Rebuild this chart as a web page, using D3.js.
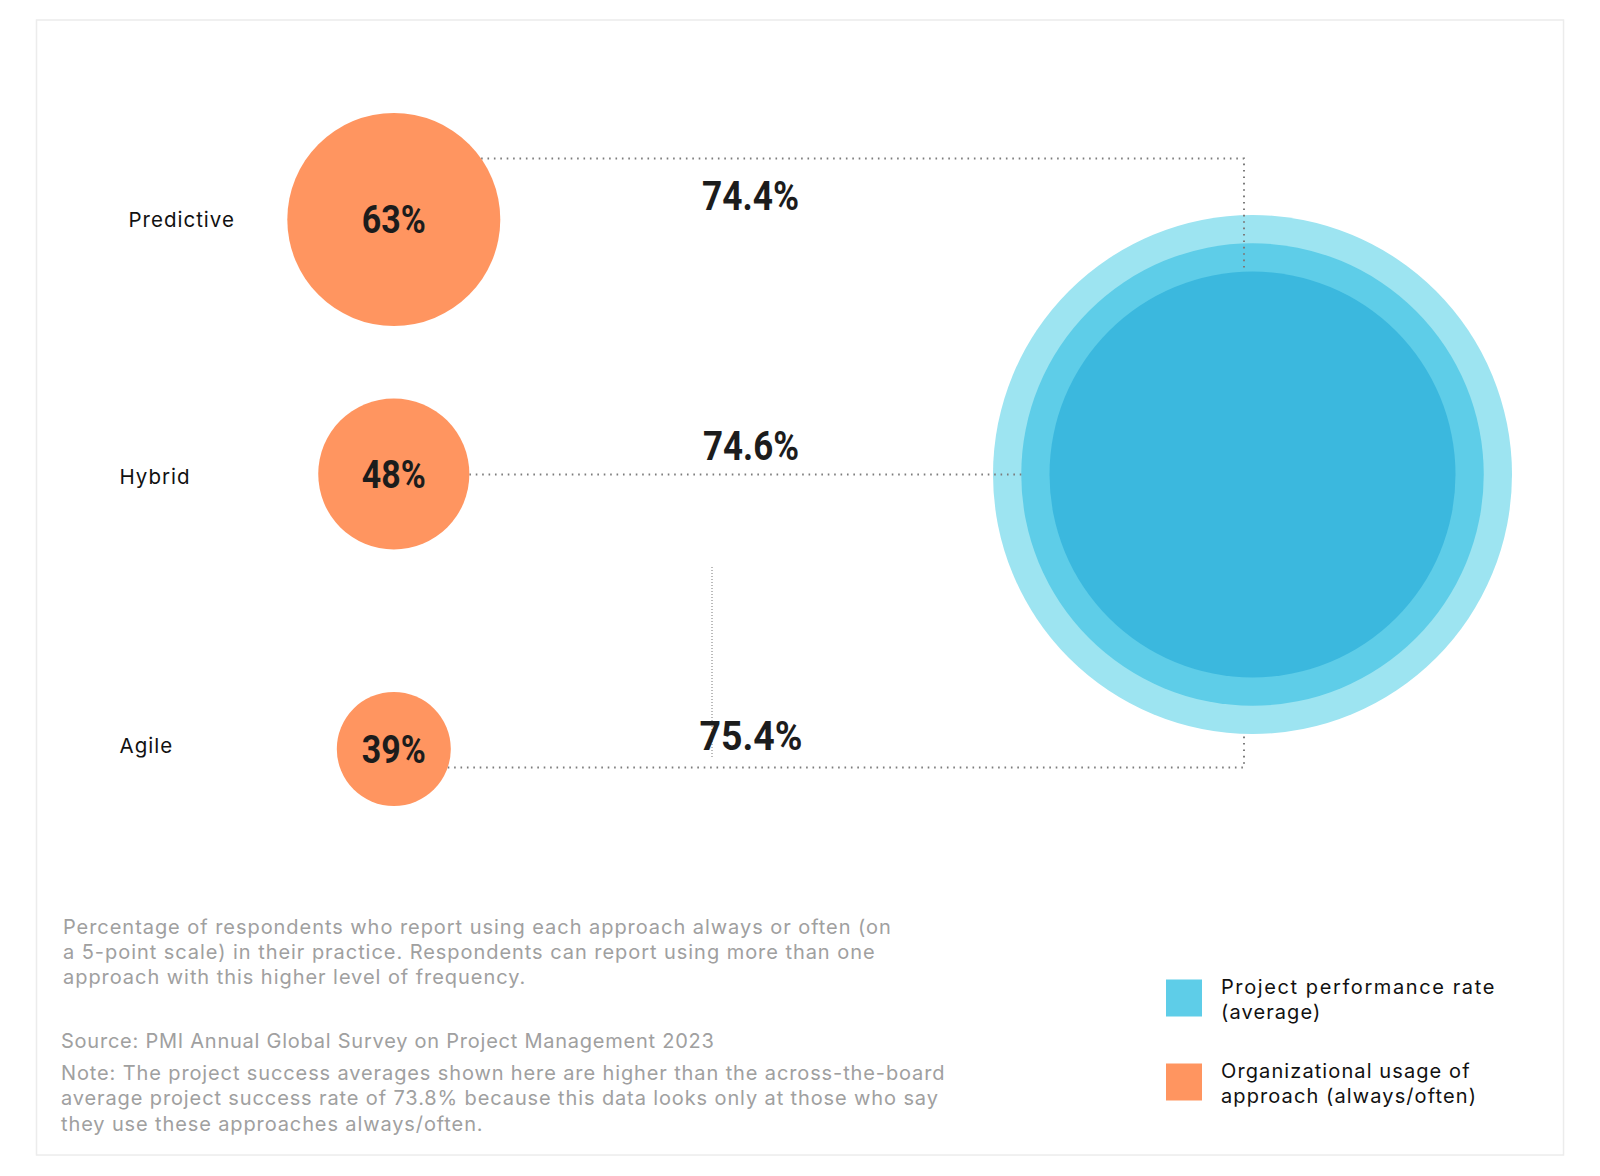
<!DOCTYPE html>
<html>
<head>
<meta charset="utf-8">
<script src="https://cdn.jsdelivr.net/npm/d3@7"></script>
<style>
  html, body { margin: 0; padding: 0; background: #ffffff; }
  svg { display: block; }
</style>
</head>
<body>
<svg id="chart" width="1600" height="1176"></svg>
<script>
// ---------- DATA ----------
const approaches = ["Predictive", "Hybrid", "Agile"];
const usage = [63, 48, 39];                 // % organizational usage (always/often)
const performance = [74.4, 74.6, 75.4];     // project performance rate (average)
const legendLabels = [
  ["Project performance rate", "(average)"],
  ["Organizational usage of", "approach (always/often)"]
];
const noteLines = [
  "Percentage of respondents who report using each approach always or often (on",
  "a 5-point scale) in their practice. Respondents can report using more than one",
  "approach with this higher level of frequency."
];
const sourceLines = [
  "Source: PMI Annual Global Survey on Project Management 2023",
  "Note: The project success averages shown here are higher than the across-the-board",
  "average project success rate of 73.8% because this data looks only at those who say",
  "they use these approaches always/often."
];

// ---------- STYLE ----------
const ORANGE = "#ff9560";
const BLUES = ["#3bb8de", "#5ecde8", "#9de4f1"]; // inner, middle, outer
const LEGEND_BLUE = "#5ecde8";
const DOT = "#7c7c7c";
const LABEL_FONT = "Inter, 'Noto Sans', sans-serif";
const NUM_FONT = "Roboto, 'Liberation Sans', sans-serif";

const svg = d3.select("#chart");
const data = approaches.map((a, i) => ({ name: a, usage: usage[i], perf: performance[i] }));

// frame
svg.append("rect")
  .attr("x", 36.5).attr("y", 20).attr("width", 1527).attr("height", 1135)
  .attr("fill", "none").attr("stroke", "#ececec").attr("stroke-width", 1.5);

// ---------- SCALES ----------
const rowY = d3.scaleOrdinal().domain(approaches).range([219.5, 474, 749]);
const lineY = d3.scaleOrdinal().domain(approaches).range([158.5, 474.5, 767.5]);
const labelY = d3.scaleOrdinal().domain(approaches).range([226.7, 484, 752.7]);
const perfLabelY = d3.scaleOrdinal().domain(approaches).range([209.5, 459.5, 749.5]);
const usageR = d3.scaleLinear().domain([39, 63]).range([57, 106.5]);
const sortedPerf = performance.slice().sort(d3.ascending);
const perfR = d3.scalePoint().domain(sortedPerf).range([203, 259.5]);

const orangeCx = 393.8;
const blueCx = 1252.5, blueCy = 474.5;
const elbowX = 1244;

// ---------- BLUE CONCENTRIC CIRCLES ----------
const blueData = data.slice().sort((a, b) => d3.descending(a.perf, b.perf));
svg.append("g").selectAll("circle")
  .data(blueData)
  .join("circle")
  .attr("cx", blueCx).attr("cy", blueCy)
  .attr("r", d => perfR(d.perf))
  .attr("fill", d => BLUES[sortedPerf.indexOf(d.perf)]);

// ---------- CONNECTOR LINES ----------
const lineG = svg.append("g")
  .attr("fill", "none").attr("stroke", DOT)
  .attr("stroke-width", 2).attr("stroke-dasharray", "1.6 4.8")
  .attr("stroke-linecap", "butt");

data.forEach(d => {
  const y = lineY(d.name);
  const r = usageR(d.usage);
  const dy = y - rowY(d.name);
  const x0 = orangeCx + Math.sqrt(Math.max(0, r * r - dy * dy));
  const R = perfR(d.perf);
  const path = d3.path();
  path.moveTo(x0, y);
  if (Math.abs(y - blueCy) < 2) {
    path.lineTo(blueCx - R, y);
  } else {
    path.lineTo(elbowX, y);
    const dx = blueCx - elbowX;
    const yy = y < blueCy ? blueCy - Math.sqrt(R * R - dx * dx) : blueCy + Math.sqrt(R * R - dx * dx);
    path.lineTo(elbowX, yy);
  }
  lineG.append("path").attr("d", path.toString());
});

// thin decorative vertical dotted line
svg.append("line")
  .attr("x1", 712).attr("x2", 712).attr("y1", 567).attr("y2", 757)
  .attr("stroke", "#777").attr("stroke-width", 1).attr("stroke-dasharray", "1 2");

// ---------- ORANGE CIRCLES ----------
const rows = svg.append("g").selectAll("g")
  .data(data)
  .join("g");

rows.append("circle")
  .attr("cx", orangeCx).attr("cy", d => rowY(d.name))
  .attr("r", d => usageR(d.usage))
  .attr("fill", ORANGE);

rows.append("text")
  .attr("x", orangeCx - 32).attr("y", d => rowY(d.name) + 13.8)
  .attr("textLength", 64).attr("lengthAdjust", "spacingAndGlyphs")
  .attr("font-family", NUM_FONT).attr("font-weight", 700).attr("font-size", 39)
  .attr("fill", "#1c1c1c")
  .text(d => d.usage + "%");

// category labels
const labelX = d3.scaleOrdinal().domain(approaches).range([128.5, 119.5, 119.5]);
rows.append("text")
  .attr("x", d => labelX(d.name)).attr("y", d => labelY(d.name))
  .attr("font-family", LABEL_FONT).attr("font-weight", 400).attr("font-size", 20.5)
  .attr("letter-spacing", 1.0)
  .attr("fill", "#111")
  .text(d => d.name);

// performance labels
const perfW = d3.scaleOrdinal().domain(approaches).range([97, 96, 103]);
const perfX = d3.scaleOrdinal().domain(approaches).range([702, 703, 699.5]);
rows.append("text")
  .attr("x", d => perfX(d.name)).attr("y", d => perfLabelY(d.name))
  .attr("textLength", d => perfW(d.name)).attr("lengthAdjust", "spacingAndGlyphs")
  .attr("font-family", NUM_FONT).attr("font-weight", 700).attr("font-size", 41)
  .attr("fill", "#1c1c1c")
  .text(d => d3.format(".1f")(d.perf) + "%");

// ---------- FOOTNOTES ----------
svg.append("g").selectAll("text")
  .data(noteLines)
  .join("text")
  .attr("x", 63).attr("y", (d, i) => 933.5 + i * 25)
  .attr("font-family", LABEL_FONT).attr("font-size", 20).attr("font-weight", 400)
  .attr("letter-spacing", 0.95)
  .attr("fill", "#a0a0a0")
  .text(d => d);

svg.append("g").selectAll("text")
  .data(sourceLines)
  .join("text")
  .attr("x", 61).attr("y", (d, i) => i === 0 ? 1047.5 : 1079.5 + (i - 1) * 25.5)
  .attr("font-family", LABEL_FONT).attr("font-size", 20).attr("font-weight", 400)
  .attr("letter-spacing", (d, i) => i === 0 ? 0.76 : 0.88)
  .attr("fill", "#a0a0a0")
  .text(d => d);

// ---------- LEGEND ----------
const legendColors = [LEGEND_BLUE, ORANGE];
const legY = [979.5, 1063.5];
const leg = svg.append("g").selectAll("g")
  .data(legendLabels)
  .join("g")
  .attr("transform", (d, i) => `translate(1166,${legY[i]})`);

leg.append("rect")
  .attr("width", 36).attr("height", 37)
  .attr("fill", (d, i) => legendColors[i]);

leg.selectAll("text")
  .data(d => d)
  .join("text")
  .attr("x", 55).attr("y", (d, i) => 14 + i * 25.5)
  .attr("font-family", LABEL_FONT).attr("font-size", 20).attr("font-weight", 400)
  .attr("letter-spacing", d => d.startsWith("Project") ? 1.6 : 1.1)
  .attr("fill", "#111")
  .text(d => d);
</script>
</body>
</html>
